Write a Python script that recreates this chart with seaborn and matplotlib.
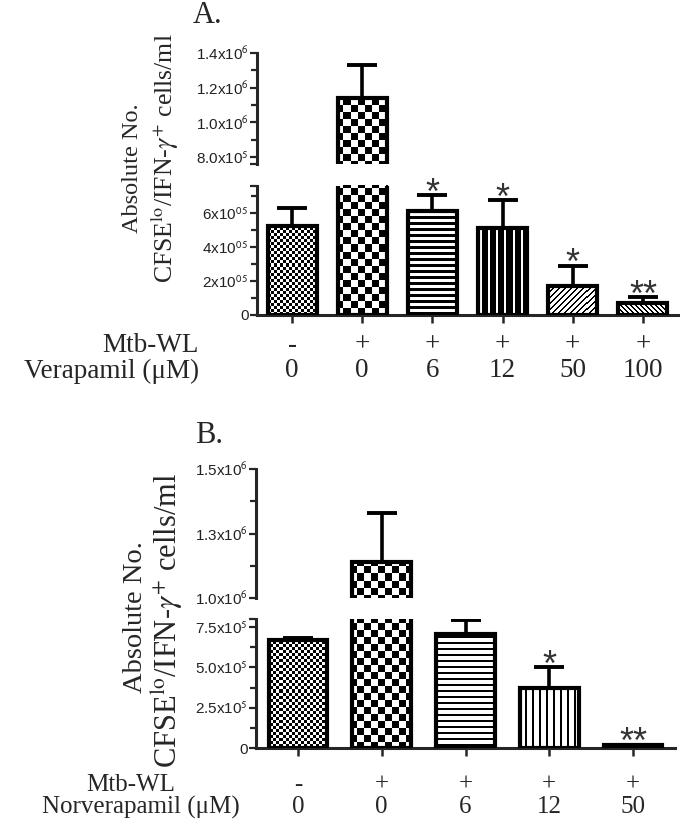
import numpy as np
import pandas as pd
import matplotlib
matplotlib.use('Agg')
import matplotlib.pyplot as plt
import seaborn as sns
from matplotlib.transforms import blended_transform_factory

sns.set_style('ticks')
plt.rcParams['font.family'] = ['Liberation Sans', 'DejaVu Sans']
plt.rcParams['mathtext.fontset'] = 'stixsans'

# panel A data (verapamil)
mtb_a = ['-', '+', '+', '+', '+', '+']
dose_a = ['0', '0', '6', '12', '50', '100']
mean_a = [5.25e5, 1.14e6, 6.1e5, 5.1e5, 1.7e5, 0.7e5]
err_a = [1.05e5, 1.9e5, 0.95e5, 1.65e5, 1.2e5, 0.35e5]
stars_a = ['', '', '*', '*', '*', '**']

# panel B data (norverapamil)
mtb_b = ['-', '+', '+', '+', '+']
dose_b = ['0', '0', '6', '12', '50']
mean_b = [6.7e5, 1.14e6, 7.1e5, 3.7e5, 0.2e5]
err_b = [0.15e5, 1.9e5, 0.85e5, 1.3e5, 0.0]
stars_b = ['', '', '', '*', '**']

# fill patterns (1 = black), in screen pixels
PATTERNS = {
    'fine': lambda I, J: (I // 3 + J // 3) % 2,
    'big': lambda I, J: (I // 7 + J // 7) % 2,
    'hline': lambda I, J: (I % 6 < 3),
    'hline_thin': lambda I, J: (I % 6 < 2),
    'vline_dark': lambda I, J: (J % 8 >= 2),
    'vline_thin': lambda I, J: (J % 7 < 2),
    'diag': lambda I, J: ((I + J) % 6 < 2),
    'back': lambda I, J: ((J - I) % 5 < 2),
    'solid': lambda I, J: np.ones_like(I),
}
pat_a = ['fine', 'big', 'hline', 'vline_dark', 'diag', 'back']
pat_b = ['fine', 'big', 'hline_thin', 'vline_thin', 'solid']

W, H = 680, 819
fig = plt.figure(figsize=(6.8, 8.19), dpi=100)


def fig_rect(left, right, top, bottom):
    return [left / W, 1 - bottom / H, (right - left) / W, (bottom - top) / H]


def fill_bars(ax, patterns):
    inv = ax.transData.inverted()
    ylo, yhi = ax.get_ylim()
    for p, name in zip(ax.patches, patterns):
        y0 = max(p.get_y(), ylo)
        y1 = min(p.get_y() + p.get_height(), yhi)
        if y1 <= y0:
            continue
        x0, x1 = p.get_x(), p.get_x() + p.get_width()
        (px0, py0), (px1, py1) = ax.transData.transform([(x0, y0), (x1, y1)])
        c0, c1 = int(np.floor(px0)), int(np.ceil(px1))
        r0, r1 = int(np.floor(H - py1)), int(np.ceil(H - py0))
        J, I = np.meshgrid(np.arange(c0, c1), np.arange(r0, r1))
        arr = PATTERNS[name](I, J).astype(float)
        (dx0, dy0), (dx1, dy1) = inv.transform([(c0, H - r1), (c1, H - r0)])
        im = ax.imshow(arr, cmap='gray_r', vmin=0, vmax=1,
                       extent=[dx0, dx1, dy0, dy1], origin='upper',
                       interpolation='nearest', aspect='auto', zorder=2)
        im.set_clip_path(p)
        p.set_facecolor('none')
        p.set_zorder(3)


def panel(ax_hi, ax_lo, mtb, dose, means, errs, stars, patterns,
          lim_hi, lim_lo, ticks_hi, labels_hi, minor_hi,
          ticks_lo, labels_lo, minor_lo):
    df = pd.DataFrame({'group': [f'{m}{d}' for m, d in zip(mtb, dose)],
                       'value': means})
    n = len(means)
    for ax, lim in ((ax_hi, lim_hi), (ax_lo, lim_lo)):
        sns.barplot(data=df, x='group', y='value', ax=ax, color='white',
                    edgecolor='black', linewidth=3.0, width=0.7,
                    saturation=1)
        centers = [p.get_x() + p.get_width() / 2 for p in ax.patches]
        keep = [i for i in range(n) if errs[i] > 0]
        ax.errorbar([centers[i] for i in keep], [means[i] for i in keep],
                    yerr=[[0] * len(keep), [errs[i] for i in keep]],
                    fmt='none', ecolor='black', elinewidth=2.6,
                    capsize=11, capthick=2.8, zorder=4)
        ax.set_xlim(-0.5, n - 0.5)
        ax.set_ylim(*lim)
        ax.set_autoscale_on(False)
        fill_bars(ax, patterns)
        ax.set_xlabel('')
        ax.set_ylabel('')
        for s in ('top', 'right'):
            ax.spines[s].set_visible(False)
        for s in ('left', 'bottom'):
            ax.spines[s].set_linewidth(2.2)
        ax.tick_params(axis='y', which='major', length=5, width=1.6,
                       labelsize=11, pad=1, labelcolor='#222222')
        ax.tick_params(axis='y', which='minor', length=4, width=1.6)
        # stars above the error caps
        for i in range(n):
            if stars[i]:
                ax.annotate(stars[i], (centers[i], means[i] + errs[i]),
                            xytext=(0, -6), textcoords='offset points',
                            ha='center', va='baseline', fontsize=26,
                            color='#333333', annotation_clip=True)
    ax_hi.set_yticks(ticks_hi, labels_hi)
    ax_hi.set_yticks(minor_hi, minor=True)
    ax_lo.set_yticks(ticks_lo, labels_lo)
    ax_lo.set_yticks(minor_lo, minor=True)
    ax_hi.spines['bottom'].set_visible(False)
    ax_hi.set_xticks([])
    ax_lo.set_xticks(range(n), [''] * n)
    ax_lo.tick_params(axis='x', length=6, width=1.8)


# ---- panel A ----
a_hi = fig.add_axes(fig_rect(257, 678, 53, 164))
a_lo = fig.add_axes(fig_rect(257, 678, 186, 315))
panel(a_hi, a_lo, mtb_a, dose_a, mean_a, err_a, stars_a, pat_a,
      (7.6e5, 1.4e6), (0, 7.6e5),
      [7.6e5, 8e5, 1.0e6, 1.2e6, 1.4e6],
      ['', '8.0x10$^{5}$', '1.0x10$^{6}$', '1.2x10$^{6}$', '1.4x10$^{6}$'],
      [9e5, 1.1e6, 1.3e6],
      [0, 2e5, 4e5, 6e5, 7.6e5],
      ['0', '2x10$^{0\\,5}$', '4x10$^{0\\,5}$', '6x10$^{0\\,5}$', ''],
      [1e5, 3e5, 5e5, 7e5])

# ---- panel B ----
b_hi = fig.add_axes(fig_rect(256, 675, 469, 598))
b_lo = fig.add_axes(fig_rect(256, 675, 619, 748))
panel(b_hi, b_lo, mtb_b, dose_b, mean_b, err_b, stars_b, pat_b,
      (1.0e6, 1.5e6), (0, 8e5),
      [1.0e6, 1.25e6, 1.5e6],
      ['1.0x10$^{6}$', '1.3x10$^{6}$', '1.5x10$^{6}$'],
      [1.125e6, 1.375e6],
      [0, 2.5e5, 5e5, 7.5e5, 8e5],
      ['0', '2.5x10$^{5}$', '5.0x10$^{5}$', '7.5x10$^{5}$', ''],
      [1.25e5, 3.75e5, 6.25e5])

serif = ['Liberation Serif', 'DejaVu Serif']
ylab2 = r'CFSE$^{\mathrm{lo}}$/IFN-$\gamma^{+}$ cells/ml'

# y axis titles
fig.text(132 / W, 1 - 168 / H, 'Absolute No.', rotation=90, ha='center',
         va='center', family=serif, fontsize=17.5)
fig.text(165 / W, 1 - 158 / H, ylab2, rotation=90, ha='center',
         va='center', family=serif, fontsize=18.5, math_fontfamily='stix')
fig.text(135 / W, 1 - 617 / H, 'Absolute No.', rotation=90, ha='center',
         va='center', family=serif, fontsize=20.5)
fig.text(168 / W, 1 - 620 / H, ylab2, rotation=90, ha='center',
         va='center', family=serif, fontsize=22, math_fontfamily='stix')

# panel letters
fig.text(193 / W, 1 - 23 / H, 'A.', ha='left', va='baseline', family=serif,
         fontsize=22)
fig.text(195 / W, 1 - 443 / H, 'B.', ha='left', va='baseline', family=serif,
         fontsize=22)

# condition rows under each panel
rows = [
    (a_lo, mtb_a, dose_a, 'Verapamil (\u03bcM)', 199, 199, 345, 371, 19.5),
    (b_lo, mtb_b, dose_b, 'Norverapamil (\u03bcM)', 175, 240, 785, 807, 18),
]
for ax, mtb, dose, drug, xr1, xr2, y1, y2, fs in rows:
    trans = blended_transform_factory(ax.transData, fig.transFigure)
    fig.text(xr1 / W, 1 - y1 / H, 'Mtb-WL', ha='right', va='center',
             family=serif, fontsize=fs)
    fig.text(xr2 / W, 1 - y2 / H, drug, ha='right', va='center',
             family=serif, fontsize=fs)
    for i in range(len(mtb)):
        ax.text(i, 1 - y1 / H, mtb[i], transform=trans, ha='center',
                va='center', family=serif, fontsize=fs)
        ax.text(i, 1 - y2 / H, dose[i], transform=trans, ha='center',
                va='center', family=serif, fontsize=fs)

fig.savefig('out.png', dpi=100)
